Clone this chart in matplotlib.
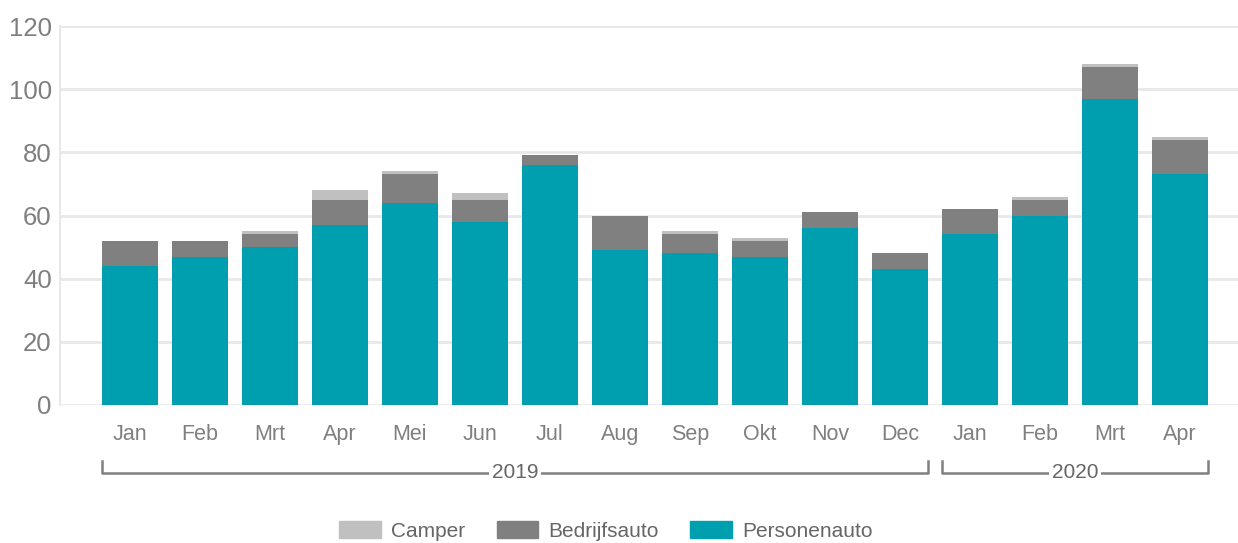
import matplotlib.pyplot as plt
import matplotlib.transforms as mtransforms
from matplotlib.patches import Patch
import numpy as np

plt.rcParams['font.family'] = ['Liberation Sans', 'DejaVu Sans']

months = ['Jan', 'Feb', 'Mrt', 'Apr', 'Mei', 'Jun', 'Jul', 'Aug', 'Sep', 'Okt', 'Nov', 'Dec',
          'Jan', 'Feb', 'Mrt', 'Apr']
personenauto = [44, 47, 50, 57, 64, 58, 76, 49, 48, 47, 56, 43, 54, 60, 97, 73]
bedrijfsauto = [8, 5, 4, 8, 9, 7, 3, 11, 6, 5, 5, 5, 8, 5, 10, 11]
camper = [0, 0, 1, 3, 1, 2, 0, 0, 1, 1, 0, 0, 0, 1, 1, 1]
years = ['2019', '2020']
year_spans = [(0, 11), (12, 15)]

c_pers = '#009fb0'
c_bedr = '#808080'
c_camp = '#c0c0c0'
grid_c = '#e8e8e8'
txt_c = '#7f7f7f'

fig = plt.figure(figsize=(12.38, 5.43), dpi=100)
ax = fig.add_axes([60 / 1238, 138 / 543, 1178 / 1238, 379 / 543])

x = np.arange(len(months))
p = np.array(personenauto)
b = np.array(bedrijfsauto)
c = np.array(camper)
ax.bar(x, p, 0.8, color=c_pers, zorder=2)
ax.bar(x, b, 0.8, bottom=p, color=c_bedr, zorder=2)
ax.bar(x, c, 0.8, bottom=p + b, color=c_camp, zorder=2)

ax.set_ylim(0, 120)
ax.set_xlim(-1.0, 15.83)
ax.set_yticks(range(0, 121, 20))
ax.yaxis.grid(True, color=grid_c, linewidth=2, zorder=0)
for s in ['top', 'right', 'bottom']:
    ax.spines[s].set_visible(False)
ax.spines['left'].set_color(grid_c)
ax.spines['left'].set_linewidth(1.5)
ax.tick_params(axis='y', length=0, labelsize=18.5, labelcolor=txt_c, pad=6)
ax.set_xticks(x)
ax.set_xticklabels(months)
ax.tick_params(axis='x', length=0, labelsize=15.5, labelcolor=txt_c, pad=14)

# year brackets
trans = mtransforms.blended_transform_factory(ax.transData, ax.transAxes)
y_line = -0.179
y_top = -0.147
for yr, (i0, i1) in zip(years, year_spans):
    x0 = i0 - 0.4
    x1 = i1 + 0.4
    ax.plot([x0, x0, x1, x1], [y_top, y_line, y_line, y_top], color='#808080',
            linewidth=1.8, transform=trans, clip_on=False)
    ax.text((x0 + x1) / 2, y_line, yr, transform=trans, ha='center', va='center',
            fontsize=15, color='#666666',
            bbox=dict(facecolor='white', edgecolor='none', pad=2))

handles = [Patch(color=c_camp, label='Camper'),
           Patch(color=c_bedr, label='Bedrijfsauto'),
           Patch(color=c_pers, label='Personenauto')]
fig.legend(handles=handles, loc='center', bbox_to_anchor=(606 / 1238, 12 / 543),
           ncol=3, frameon=False, fontsize=15, labelcolor='#666666',
           handlelength=2.0, handleheight=0.85, columnspacing=1.5, handletextpad=0.5)

fig.savefig('out.png', dpi=100)
